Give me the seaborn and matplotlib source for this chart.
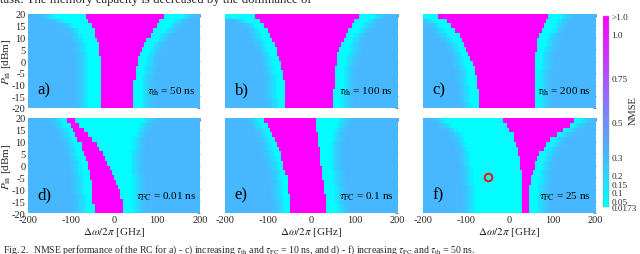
import numpy as np
import pandas as pd
import matplotlib
matplotlib.use("Agg")
import matplotlib.pyplot as plt
import seaborn as sns

# ---------------- data ----------------
FREQ_EDGES = np.arange(-200, 201, 5)          # GHz cell edges
FREQ = FREQ_EDGES[:-1] + 2.5                  # GHz cell centres
PIN = np.arange(19, -20, -2)                  # dBm row centres (top -> bottom)

X_TICKS = [-200, -100, 0, 100, 200]
Y_TICKS = [20, 15, 10, 5, 0, -5, -10, -15, -20]
CBAR_TICKS = [0.0173, 0.05, 0.1, 0.15, 0.2, 0.3, 0.5, 0.75, 1.0, 1.1]
CBAR_LABELS = ['0.0173', '0.05', '0.1', '0.15', '0.2', '0.3', '0.5', '0.75', '1.0', '>1.0']
NMSE_MIN, NMSE_MAX = 0.0173, 1.1

NMSE_OVER = 1.1          # NMSE > 1 region
NMSE_CYAN = 0.03         # best-performance band
NMSE_RAMP = [0.10, 0.16, 0.21, 0.25, 0.28, 0.30]   # levels leaving the cyan band (5 GHz steps)
NMSE_BLUE = 0.32         # far background

PANEL_LETTERS = ['a)', 'b)', 'c)', 'd)', 'e)', 'f)']
PANEL_PARAMS = [r'$\tau_{\rm th}$ = 50 ns', r'$\tau_{\rm th}$ = 100 ns', r'$\tau_{\rm th}$ = 200 ns',
                r'$\tau_{\rm FC}$ = 0.01 ns', r'$\tau_{\rm FC}$ = 0.1 ns', r'$\tau_{\rm FC}$ = 25 ns']

# magenta (NMSE>1) left/right edges and cyan band outer edges per P_in row, GHz
A_MAG_L = [-67, -58, -52, -47, -43, -40, -37, -35, -33, -32, -31, -30, -30, -29, -29, -29, -29, -29, -29, -29]
A_MAG_R = [113, 106, 99, 91, 83, 77, 71, 65, 60, 56, 54, 52, 50, 48, 46, 45, 45, 44, 44, 44]
A_CYA_L = [-140, -115, -95, -82, -75, -70, -66, -64, -62, -61, -60, -59, -59, -59, -59, -59, -59, -59, -59, -59]
A_CYA_R = [160, 142, 130, 118, 106, 98, 90, 84, 80, 76, 73, 71, 69, 67, 66, 65, 65, 64, 64, 64]

B_MAG_L = [-128, -119, -109, -100, -95, -91, -87, -82, -78, -74, -71, -68, -66, -64, -62, -61, -59, -59, -58, -58]
B_MAG_R = [112, 101, 93, 85, 78, 73, 69, 65, 61, 59, 58, 57, 56, 55, 54, 53, 52, 52, 51, 51]
B_CYA_L = [-200, -150, -132, -120, -113, -108, -104, -100, -96, -92, -89, -86, -84, -82, -80, -79, -78, -78, -77, -77]
B_CYA_R = [145, 130, 120, 110, 102, 96, 92, 88, 84, 81, 79, 77, 76, 75, 74, 73, 72, 71, 71, 70]

C_MAG_L = [-165, -145, -133, -125, -117, -109, -103, -98, -93, -88, -85, -81, -78, -76, -75, -74, -72, -71, -70, -69]
C_MAG_R = [88, 84, 78, 74, 70, 67, 65, 63, 61, 60, 59, 58, 58, 58, 58, 58, 58, 58, 58, 58]
C_CYA_L = [-200, -175, -158, -148, -138, -129, -122, -117, -112, -107, -103, -99, -96, -94, -93, -92, -90, -89, -88, -87]
C_CYA_R = [120, 112, 104, 98, 92, 87, 83, 80, 77, 75, 74, 73, 72, 72, 72, 72, 72, 72, 72, 72]

D_MAG_L = [-110, -102, -96, -90, -83, -77, -73, -69, -65, -62, -59, -56, -54, -52, -51, -50, -49, -48, -47, -47]
D_MAG_R = [-88, -80, -70, -60, -50, -38, -33, -27, -21, -15, -10, -5, 0, 5, 10, 14, 16, 18, 20, 22]
D_CYA_L = [-120, -113, -107, -102, -96, -91, -87, -84, -80, -77, -75, -73, -71, -70, -69, -68, -67, -66, -66, -66]
D_CYA_R = [70, 62, 55, 50, 46, 44, 43, 42, 42, 42, 42, 42, 43, 44, 45, 46, 46, 47, 47, 47]

E_MAG_L = [-109, -100, -94, -88, -85, -81, -77, -72, -69, -66, -63, -60, -57, -55, -54, -53, -52, -51, -50, -50]
E_MAG_R = [10, 11, 12, 14, 16, 17, 18, 19, 21, 22, 24, 25, 27, 29, 31, 32, 33, 34, 35, 35]
E_CYA_L = [-122, -113, -106, -100, -96, -92, -88, -84, -80, -77, -74, -71, -68, -66, -65, -64, -63, -62, -61, -61]
E_CYA_R = [66, 60, 55, 51, 48, 46, 45, 45, 46, 46, 47, 48, 50, 52, 54, 55, 56, 57, 58, 58]

F_MAG_L = [-13, -4, 1, 8, 12, 15, 18, 21, 24, 26, 27, 29, 30, 31, 31, 31, 31, 31, 31, 31]
F_MAG_R = [152, 138, 123, 108, 94, 86, 78, 71, 65, 61, 58, 55, 52, 49, 47, 46, 46, 46, 46, 46]
F_CYA_L = [-150, -135, -122, -112, -105, -100, -95, -92, -90, -88, -86, -85, -84, -83, -82, -81, -80, -80, -79, -79]
F_CYA_R = [165, 150, 135, 120, 106, 98, 90, 84, 79, 76, 74, 72, 70, 68, 67, 67, 67, 67, 67, 67]

MARK_FREQ, MARK_PIN = -50, -5      # red circle in f)

PANELS = [(A_MAG_L, A_MAG_R, A_CYA_L, A_CYA_R), (B_MAG_L, B_MAG_R, B_CYA_L, B_CYA_R),
          (C_MAG_L, C_MAG_R, C_CYA_L, C_CYA_R), (D_MAG_L, D_MAG_R, D_CYA_L, D_CYA_R),
          (E_MAG_L, E_MAG_R, E_CYA_L, E_CYA_R), (F_MAG_L, F_MAG_R, F_CYA_L, F_CYA_R)]


def nmse_grid(ml, mr, cl, cr):
    z = np.full((len(PIN), len(FREQ)), NMSE_BLUE)
    for i in range(len(PIN)):
        for j, f in enumerate(FREQ):
            if ml[i] <= f <= mr[i]:
                v = NMSE_OVER
            elif cl[i] <= f < ml[i] or mr[i] < f <= cr[i]:
                v = NMSE_CYAN
            else:
                k = int((cl[i] - f) // 5) if f < cl[i] else int((f - cr[i]) // 5)
                v = NMSE_RAMP[k] if k < len(NMSE_RAMP) else NMSE_BLUE
            z[i, j] = v
    return pd.DataFrame(z, index=PIN, columns=FREQ)


# ---------------- figure ----------------
sns.set_style("white")
plt.rcParams['font.family'] = ['Liberation Serif', 'DejaVu Serif']
plt.rcParams['mathtext.fontset'] = 'stix'

W, H = 640, 255
fig = plt.figure(figsize=(W / 100, H / 100), dpi=100)


def px_axes(x0, y0, x1, y1):
    return fig.add_axes([x0 / W, 1 - y1 / H, (x1 - x0) / W, (y1 - y0) / H])


lefts = [27.7, 225, 423]
width = 172.5
rows = [(15, 109), (119, 214)]

xt_pos = [(v - FREQ_EDGES[0]) / 5 for v in X_TICKS]
yt_pos = [(PIN[0] + 1 - v) / 2 for v in Y_TICKS]

axes = []
for k, params in enumerate(PANELS):
    r, c = divmod(k, 3)
    ax = px_axes(lefts[c], rows[r][0], lefts[c] + width, rows[r][1])
    df = nmse_grid(*params)
    sns.heatmap(df, ax=ax, cmap='cool', vmin=NMSE_MIN, vmax=NMSE_MAX, cbar=False,
                xticklabels=False, yticklabels=False, rasterized=True)
    ax.set_xticks(xt_pos)
    ax.set_yticks(yt_pos)
    ax.tick_params(direction='in', length=2.5, width=0.5, color='0.35',
                   top=True, right=True, labelsize=7.5, pad=1.5)
    if r == 1:
        ax.set_xticklabels([str(v) for v in X_TICKS])
        ax.set_xlabel(r'$\Delta\omega/2\pi$ [GHz]', fontsize=8, labelpad=1)
    else:
        ax.set_xticklabels([])
        ax.set_xlabel('')
    if c == 0:
        ax.set_yticklabels([str(v) for v in Y_TICKS])
        ax.set_ylabel(r'$P_{\rm in}$ [dBm]', fontsize=8)
        ax.yaxis.set_label_coords(-14.5 / width, 0.5)
    else:
        ax.set_yticklabels([])
        ax.set_ylabel('')
    ax.text(0.055, 0.2, PANEL_LETTERS[k], transform=ax.transAxes, fontsize=12,
            ha='left', va='center', color='black')
    ax.text(0.975, 0.18, PANEL_PARAMS[k], transform=ax.transAxes, fontsize=8,
            ha='right', va='center', color='black')
    axes.append(ax)

# red marker in f)
axes[5].plot([(MARK_FREQ - FREQ_EDGES[0]) / 5], [(PIN[0] + 1 - MARK_PIN) / 2], 'o',
             mfc='none', mec='red', ms=5.5, mew=1.3)

# colour bar
cax = px_axes(603, 17, 608.5, 208)
cb = fig.colorbar(axes[5].collections[0], cax=cax, ticks=CBAR_TICKS)
cb.set_ticklabels(CBAR_LABELS)
cb.ax.tick_params(length=0, labelsize=6.6, pad=2)
cb.outline.set_linewidth(0.3)
cb.outline.set_edgecolor('0.6')
fig.text(633 / W, 1 - 111 / H, 'NMSE', rotation=90, ha='center', va='center', fontsize=7.5)

# surrounding page text
fig.text(0.0, 1 - 3.5 / H, 'task. The memory capacity is decreased by the dominance of',
         ha='left', va='baseline', fontsize=9.2)
fig.text(3 / W, 1 - 253 / H,
         r'Fig. 2.  NMSE performance of the RC for a) - c) increasing $\tau_{\rm th}$ and '
         r'$\tau_{\rm FC}$ = 10 ns, and d) - f) increasing $\tau_{\rm FC}$ and $\tau_{\rm th}$ = 50 ns.',
         ha='left', va='baseline', fontsize=7)

fig.savefig('out.png', dpi=100, facecolor='white')
